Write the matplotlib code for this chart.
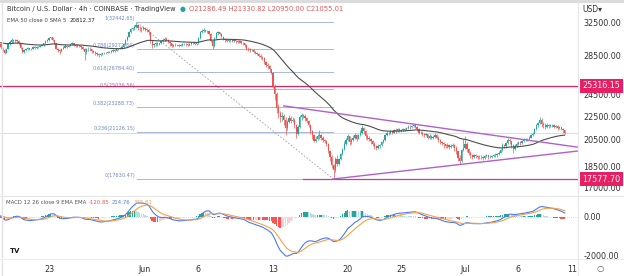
import numpy as np
import pandas as pd
import matplotlib
matplotlib.use("Agg")
import matplotlib.pyplot as plt
from matplotlib.ticker import NullLocator
from matplotlib.lines import Line2D
import matplotlib.transforms as mtransforms

# ---------------------------------
# BTC/USD 4h candles (Coinbase), May 16 12:00 -> Jul 10 08:00
# x position = days from May 23 00:00
# ---------------------------------
first_open = 30200
first_day = -6.5

closes = [
    29900, 29600, 29850,                        # May 16
    30100, 30300, 30400, 30500, 30300, 30450,   # May 17
    30300, 30100, 29800, 29450, 29100, 28850,   # May 18
    29300, 29800, 30100, 30350, 30200, 30300,   # May 19
    30150, 29900, 29400, 28950, 29100, 29200,   # May 20
    29350, 29200, 29300, 29450, 29400, 29450,   # May 21
    29500, 29600, 29700, 29900, 30200, 30300,   # May 22
    30500, 30600, 30300, 29900, 29300, 29100,   # May 23
    29000, 29300, 29400, 29600, 29500, 29650,   # May 24
    29800, 29900, 29750, 29600, 29700, 29550,   # May 25
    29450, 29300, 28900, 29200, 29300, 29200,   # May 26
    29000, 28900, 28800, 28700, 28600, 28650,   # May 27
    28750, 28850, 28800, 28900, 28950, 29000,   # May 28
    29100, 29050, 29200, 29300, 29350, 29450,   # May 29
    29800, 30300, 30700, 31200, 31600, 31700,   # May 30
    31900, 32100, 31800, 31700, 31600, 31800,   # May 31
    31650, 31500, 31200, 30200, 29700, 29800,   # Jun 1
    29950, 29850, 29900, 30200, 30350, 30450,   # Jun 2
    30300, 30100, 29900, 29650, 29700, 29750,   # Jun 3
    29700, 29650, 29750, 29800, 29850, 29800,   # Jun 4
    29750, 29800, 29900, 29950, 29850, 29900,   # Jun 5
    30500, 31300, 31400, 31500, 31400, 31350,   # Jun 6
    31000, 30200, 29600, 30500, 31100, 31200,   # Jun 7
    31000, 30700, 30400, 30300, 30200, 30250,   # Jun 8
    30300, 30200, 30250, 30150, 30100, 30150,   # Jun 9
    30000, 29900, 29700, 29300, 29200, 29100,   # Jun 10
    29150, 28900, 28800, 28700, 28500, 28400,   # Jun 11
    28200, 27800, 27500, 27400, 27000, 26600,   # Jun 12
    25300, 24500, 23200, 22800, 22400, 22500,   # Jun 13
    22200, 21500, 22000, 22300, 22100, 22150,   # Jun 14
    21700, 21000, 21600, 22400, 22600, 22550,   # Jun 15
    22300, 22100, 21700, 21200, 20900, 20400,   # Jun 16
    20600, 20800, 20900, 20700, 20500, 20450,   # Jun 17
    20150, 19600, 19200, 18600, 18200, 19000,   # Jun 18
    18700, 19000, 19400, 19800, 20200, 20500,   # Jun 19
    20800, 20300, 20500, 20700, 20900, 20600,   # Jun 20
    20900, 21100, 21500, 21200, 20800, 20700,   # Jun 21
    20600, 20400, 20200, 20000, 19900, 20000,   # Jun 22
    20100, 20300, 20500, 20900, 21100, 21050,   # Jun 23
    21200, 21100, 21300, 21250, 21400, 21250,   # Jun 24
    21300, 21400, 21350, 21500, 21600, 21550,   # Jun 25
    21650, 21750, 21600, 21400, 21100, 21050,   # Jun 26
    21000, 20900, 20950, 20700, 20800, 20700,   # Jun 27
    20750, 20900, 20700, 20500, 20300, 20250,   # Jun 28
    20150, 20000, 20100, 19950, 20050, 20100,   # Jun 29
    19900, 19600, 19100, 18900, 19700, 19900,   # Jun 30
    20200, 19800, 19500, 19300, 19200, 19300,   # Jul 1
    19250, 19200, 19150, 19200, 19100, 19250,   # Jul 2
    19300, 19150, 19200, 19250, 19300, 19300,   # Jul 3
    19400, 19500, 19700, 20100, 20000, 20250,   # Jul 4
    20500, 20400, 20100, 19800, 20050, 20200,   # Jul 5
    20300, 20250, 20400, 20500, 20550, 20600,   # Jul 6
    20700, 20900, 21000, 21400, 21700, 21900,   # Jul 7
    22200, 21800, 21700, 21600, 21700, 21650,   # Jul 8
    21700, 21750, 21600, 21650, 21500, 21550,   # Jul 9
    21400, 21286.49, 21055.01,                  # Jul 10
]

highs = [
    30300, 29950, 29950,
    30200, 30400, 30550, 30700, 30600, 30550,
    30550, 30350, 30150, 29900, 29500, 29200,
    29400, 29900, 30300, 30500, 30450, 30400,
    30400, 30250, 29950, 29500, 29300, 29350,
    29450, 29400, 29400, 29550, 29600, 29550,
    29600, 29700, 29800, 30000, 30350, 30450,
    30600, 30700, 30650, 30350, 29950, 29400,
    29250, 29400, 29550, 29800, 29700, 29750,
    29900, 30100, 29950, 29850, 29800, 29750,
    29650, 29550, 29400, 29350, 29500, 29450,
    29300, 29100, 29000, 28950, 28800, 28800,
    28850, 28950, 28950, 29000, 29050, 29100,
    29200, 29200, 29300, 29400, 29450, 29550,
    29900, 30450, 30800, 31400, 31750, 31900,
    32100, 32442.65, 32250, 31950, 31850, 31950,
    31900, 31750, 31600, 31300, 30350, 30000,
    30050, 30050, 30000, 30350, 30500, 30600,
    30600, 30400, 30200, 29950, 29850, 29900,
    29850, 29800, 29850, 29900, 29950, 29950,
    29900, 29900, 30000, 30050, 30000, 30000,
    30600, 31400, 31600, 31700, 31650, 31500,
    31400, 31100, 30300, 30600, 31300, 31400,
    31300, 31100, 30800, 30500, 30400, 30400,
    30450, 30400, 30400, 30350, 30300, 30300,
    30200, 30100, 30000, 29800, 29450, 29350,
    29300, 29200, 29000, 28900, 28800, 28650,
    28500, 28300, 27900, 27650, 27500, 27100,
    26700, 25500, 24700, 23600, 23000, 22900,
    22700, 22400, 22200, 22600, 22500, 22400,
    22300, 21800, 21700, 22600, 22800, 22700,
    22700, 22400, 22200, 21800, 21300, 21000,
    20800, 21000, 21300, 21000, 20800, 20600,
    20500, 20250, 19700, 19300, 18700, 19200,
    19300, 19100, 19500, 19900, 20400, 20700,
    21000, 20850, 20700, 20900, 21050, 20950,
    21000, 21300, 21700, 21600, 21300, 20950,
    20800, 20700, 20500, 20300, 20100, 20150,
    20200, 20400, 20600, 21000, 21200, 21200,
    21300, 21250, 21400, 21450, 21500, 21450,
    21400, 21500, 21450, 21600, 21750, 21700,
    21750, 21850, 21800, 21650, 21450, 21200,
    21200, 21100, 21050, 21000, 20950, 20900,
    20900, 21100, 20950, 20800, 20600, 20400,
    20300, 20200, 20250, 20150, 20200, 20250,
    20150, 20000, 19650, 19300, 19800, 20600,
    20800, 20300, 19900, 19600, 19400, 19400,
    19400, 19350, 19300, 19300, 19250, 19350,
    19400, 19350, 19300, 19350, 19400, 19450,
    19500, 19600, 19800, 20250, 20200, 20350,
    20700, 20650, 20450, 20200, 20200, 20300,
    20400, 20400, 20500, 20650, 20700, 20700,
    20800, 21000, 21150, 21500, 21800, 22000,
    22450, 22300, 21950, 21900, 21900, 21800,
    21800, 21850, 21800, 21750, 21700, 21650,
    21600, 21450, 21330.82,
]

lows = [
    29700, 29500, 29550,
    29800, 30000, 30200, 30250, 30200, 30250,
    30200, 30000, 29700, 29300, 28900, 28650,
    28750, 29250, 29700, 30000, 30000, 30100,
    29950, 29750, 29300, 28800, 28750, 29000,
    29100, 29100, 29150, 29250, 29300, 29300,
    29350, 29450, 29550, 29650, 29850, 30100,
    30200, 30400, 30200, 29800, 29200, 28900,
    28700, 28950, 29200, 29350, 29350, 29450,
    29550, 29700, 29600, 29450, 29500, 29450,
    29300, 29100, 28050, 28700, 29050, 29050,
    28850, 28750, 28600, 28500, 28400, 28500,
    28550, 28650, 28700, 28750, 28800, 28850,
    28950, 28950, 29000, 29150, 29200, 29250,
    29400, 29750, 30200, 30600, 31100, 31450,
    31500, 31750, 31500, 31400, 31300, 31450,
    31400, 31250, 30950, 30000, 29400, 29500,
    29600, 29650, 29700, 29850, 30050, 30200,
    30150, 29950, 29600, 29450, 29500, 29550,
    29550, 29500, 29600, 29650, 29700, 29650,
    29650, 29650, 29750, 29800, 29700, 29750,
    29850, 30450, 31100, 31250, 31200, 31150,
    30900, 30100, 29250, 29500, 30400, 30950,
    30900, 30600, 30300, 30100, 30050, 30100,
    30100, 30050, 30100, 30000, 29950, 30000,
    29850, 29750, 29500, 29100, 29000, 28900,
    29000, 28800, 28650, 28550, 28350, 28150,
    28000, 27600, 27300, 27100, 26700, 26500,
    25100, 24000, 22800, 22300, 22000, 22100,
    21700, 20900, 21300, 21900, 21900, 21950,
    21500, 20700, 20900, 21500, 22200, 22300,
    22100, 21900, 21550, 21000, 20600, 20300,
    20300, 20500, 20600, 20500, 20350, 20250,
    20000, 19500, 18900, 18400, 17630.47, 18100,
    18500, 18600, 18950, 19350, 19700, 20100,
    20400, 20100, 20200, 20400, 20600, 20400,
    20550, 20800, 21000, 20950, 20600, 20500,
    20400, 20200, 20000, 19800, 19750, 19800,
    19900, 20000, 20250, 20400, 20800, 20900,
    21000, 20950, 21050, 21100, 21150, 21150,
    21150, 21250, 21200, 21300, 21400, 21400,
    21450, 21550, 21450, 21200, 21000, 20950,
    20850, 20750, 20800, 20550, 20600, 20550,
    20600, 20650, 20550, 20300, 20150, 20100,
    19900, 19850, 19900, 19800, 19850, 19950,
    19600, 19400, 18900, 18650, 18800, 19600,
    19800, 19550, 19350, 19100, 19000, 19100,
    19100, 19050, 19000, 19050, 18950, 19050,
    19150, 19050, 19100, 19100, 19150, 19150,
    19200, 19300, 19450, 19650, 19850, 19900,
    20200, 20200, 19850, 19500, 19700, 19950,
    20100, 20100, 20200, 20350, 20400, 20450,
    20500, 20650, 20850, 20950, 21300, 21600,
    21800, 21600, 21500, 21400, 21500, 21500,
    21550, 21600, 21450, 21500, 21350, 21400,
    21300, 21100, 20950,
]

# Fibonacci retracement levels as labelled on the chart
fib_start, fib_end = 8.25, 26.6
fib_ratios = ["1", "0.786", "0.618", "0.5", "0.382", "0.236", "0"]
fib_prices = [32442.65, 29272.84, 26784.40, 25036.56, 23288.73, 21126.15, 17630.47]

# Horizontal levels and triangle
level_top = 25316.15
level_bottom = 17577.70
level_bottom_start = 23.8
tri_upper_t = [22.0, 49.5]
tri_upper_p = [23420, 19940]
tri_lower_t = [26.6, 49.5]
tri_lower_p = [17600, 19630]

date_ticks = [0, 9, 14, 21, 28, 33, 39, 44, 49]
date_labels = ["23", "Jun", "6", "13", "20", "25", "Jul", "6", "11"]
price_ticks = [32500, 28500, 24500, 22500, 20500, 18500, 17000]

# ---------------------------------
# Derived series
# ---------------------------------
c = np.array(closes, dtype=float)
o = np.concatenate([[first_open], c[:-1]])
h = np.maximum(np.array(highs, dtype=float), np.maximum(o, c))
l = np.minimum(np.array(lows, dtype=float), np.minimum(o, c))
t = first_day + np.arange(len(c)) / 6.0

s = pd.Series(c)
ema50 = s.ewm(span=50, adjust=False).mean()
macd = s.ewm(span=12, adjust=False).mean() - s.ewm(span=26, adjust=False).mean()
signal = macd.ewm(span=9, adjust=False).mean()
hist = (macd - signal).values
prev = np.concatenate([[0], hist[:-1]])
hist_colors = []
for hv, pv in zip(hist, prev):
    if hv >= 0:
        hist_colors.append("#26a69a" if hv > pv else "#b2dfdb")
    else:
        hist_colors.append("#ff5252" if hv < pv else "#ffcdd2")

UP = "#26a69a"
DOWN = "#ef5350"
W, H = 624, 276

fig = plt.figure(figsize=(6.24, 2.76), dpi=100)
fig.patch.set_facecolor("white")

ax = fig.add_axes([0, (H - 195) / H, 578 / W, 192 / H])
ax2 = fig.add_axes([0, (H - 258) / H, 578 / W, 62 / H])

xmin, xmax = -49 / 10.67, (578 - 49) / 10.67

# ---- main pane ----
ax.set_yscale("log")
ax.set_xlim(xmin, xmax)
ax.set_ylim(np.exp((2681.6 - 195) / 256), np.exp((2681.6 - 3) / 256))

cols = [UP if cc >= oo else DOWN for oo, cc in zip(o, c)]
ax.vlines(t, l, h, colors=cols, linewidth=0.5, zorder=3)
body_lo = np.minimum(o, c)
body_hi = np.maximum(o, c)
body_hi = np.where(body_hi - body_lo < 15, body_lo + 15, body_hi)
ax.bar(t, body_hi - body_lo, bottom=body_lo, width=0.12, color=cols,
       linewidth=0, zorder=3)

ax.plot(t, ema50, color="#4d4d4d", linewidth=0.8, zorder=4)

# last price line
ax.axhline(c[-1], color="#d6d6d6", linewidth=0.6, zorder=1)

# fibonacci
for r, p in zip(fib_ratios, fib_prices):
    ax.plot([fib_start, fib_end], [p, p], color="#aab7dc", linewidth=0.7, zorder=2)
    ax.text(fib_start - 0.2, p * 1.004, f"{r}({p:.2f})", ha="right", va="bottom",
            fontsize=3.6, color="#6f86c0", zorder=2)
ax.plot([fib_start, fib_end], [fib_prices[0], fib_prices[-1]], color="#a0a0a0",
        linewidth=0.6, linestyle=(0, (2, 2)), zorder=2)

# horizontal levels
ax.axhline(level_top, color="#e0245e", linewidth=0.9, zorder=2)
ax.plot([level_bottom_start, xmax], [level_bottom, level_bottom],
        color="#d4359c", linewidth=0.9, zorder=2)

# triangle
ax.plot(tri_upper_t, tri_upper_p, color="#b060cc", linewidth=1.0, zorder=5)
ax.plot(tri_lower_t, tri_lower_p, color="#b060cc", linewidth=1.0, zorder=5)

ax.yaxis.tick_right()
ax.set_yticks(price_ticks)
ax.set_yticklabels([f"{p:.2f}" for p in price_ticks])
ax.yaxis.set_minor_locator(NullLocator())
ax.tick_params(axis="y", length=0, pad=4, labelsize=5.8, labelcolor="#333333")
ax.set_xticks([])
for sp in ax.spines.values():
    sp.set_visible(False)

trans = mtransforms.blended_transform_factory(ax.transAxes, ax.transData)
for val in [level_top, level_bottom]:
    ax.text(1.008, val, f"{val:.2f}", transform=trans, ha="left", va="center",
            fontsize=5.8, color="white", zorder=10,
            bbox=dict(boxstyle="square,pad=0.3", fc="#e91e63", ec="none"))

# ---- MACD pane ----
ax2.set_xlim(xmin, xmax)
ax2.set_ylim(-2103, 1077)
ax2.bar(t, hist, width=0.13, color=hist_colors, linewidth=0, zorder=2)
ax2.axhline(0, color="#e8a0a0", linewidth=0.5, linestyle=(0, (1, 2)), zorder=1)
ax2.plot(t, macd, color="#4a7cf0", linewidth=0.8, zorder=3)
ax2.plot(t, signal, color="#f5a04a", linewidth=0.8, zorder=3)
ax2.yaxis.tick_right()
ax2.set_yticks([0, -2000])
ax2.set_yticklabels(["0.00", "-2000.00"])
ax2.tick_params(axis="y", length=0, pad=4, labelsize=5.8, labelcolor="#333333")
ax2.set_xticks(date_ticks)
ax2.set_xticklabels(date_labels)
ax2.tick_params(axis="x", length=0, pad=5, labelsize=5.8, labelcolor="#333333")
for sp in ax2.spines.values():
    sp.set_visible(False)

# ---- frame lines ----
def fx(x):
    return x / W

def fy(y):
    return 1 - y / H

fig.add_artist(Line2D([0, 1], [fy(1), fy(1)], color="#d9d9d9", linewidth=2))
fig.add_artist(Line2D([fx(1.5), fx(1.5)], [fy(2), fy(276)], color="#e3e3e3", linewidth=1))
fig.add_artist(Line2D([fx(578), fx(578)], [fy(2), fy(276)], color="#e6e6e6", linewidth=0.8))
fig.add_artist(Line2D([0, 1], [fy(195.5), fy(195.5)], color="#e6e6e6", linewidth=0.8))
fig.add_artist(Line2D([0, 1], [fy(258.5), fy(258.5)], color="#ececec", linewidth=0.8))

# ---- header texts, placed one after another ----
renderer = fig.canvas.get_renderer()

def text_row(x, y, parts, size, gap=3):
    for txt, color in parts:
        tt = fig.text(fx(x), fy(y), txt, fontsize=size, color=color, va="center")
        x = tt.get_window_extent(renderer).x1 + gap

text_row(7, 9, [("Bitcoin / U.S. Dollar · 4h · COINBASE · TradingView", "#333333"),
                ("●", "#26a69a"),
                ("O21286.49 H21330.82 L20950.00 C21055.01", "#e05a5a")], 4.9, gap=4)
text_row(7, 20, [("EMA 50 close 0 SMA 5", "#444444"), ("20812.37", "#222222")], 3.9)
text_row(6, 203, [("MACD 12 26 close 9 EMA EMA", "#555555"), ("-120.85", "#ef5350"),
                  ("214.76", "#4a7cf0"), ("335.61", "#f5a04a")], 3.9, gap=2.5)

fig.text(fx(582), fy(10), "USD▾", fontsize=5.5, color="#333333", va="center")
fig.text(fx(10), fy(251), "TV", fontsize=5, fontweight="bold", color="#131722", va="center")
fig.text(fx(600), fy(269), "○", fontsize=6, color="#555555", va="center", ha="center")

fig.savefig("out.png", dpi=100, facecolor="white")
